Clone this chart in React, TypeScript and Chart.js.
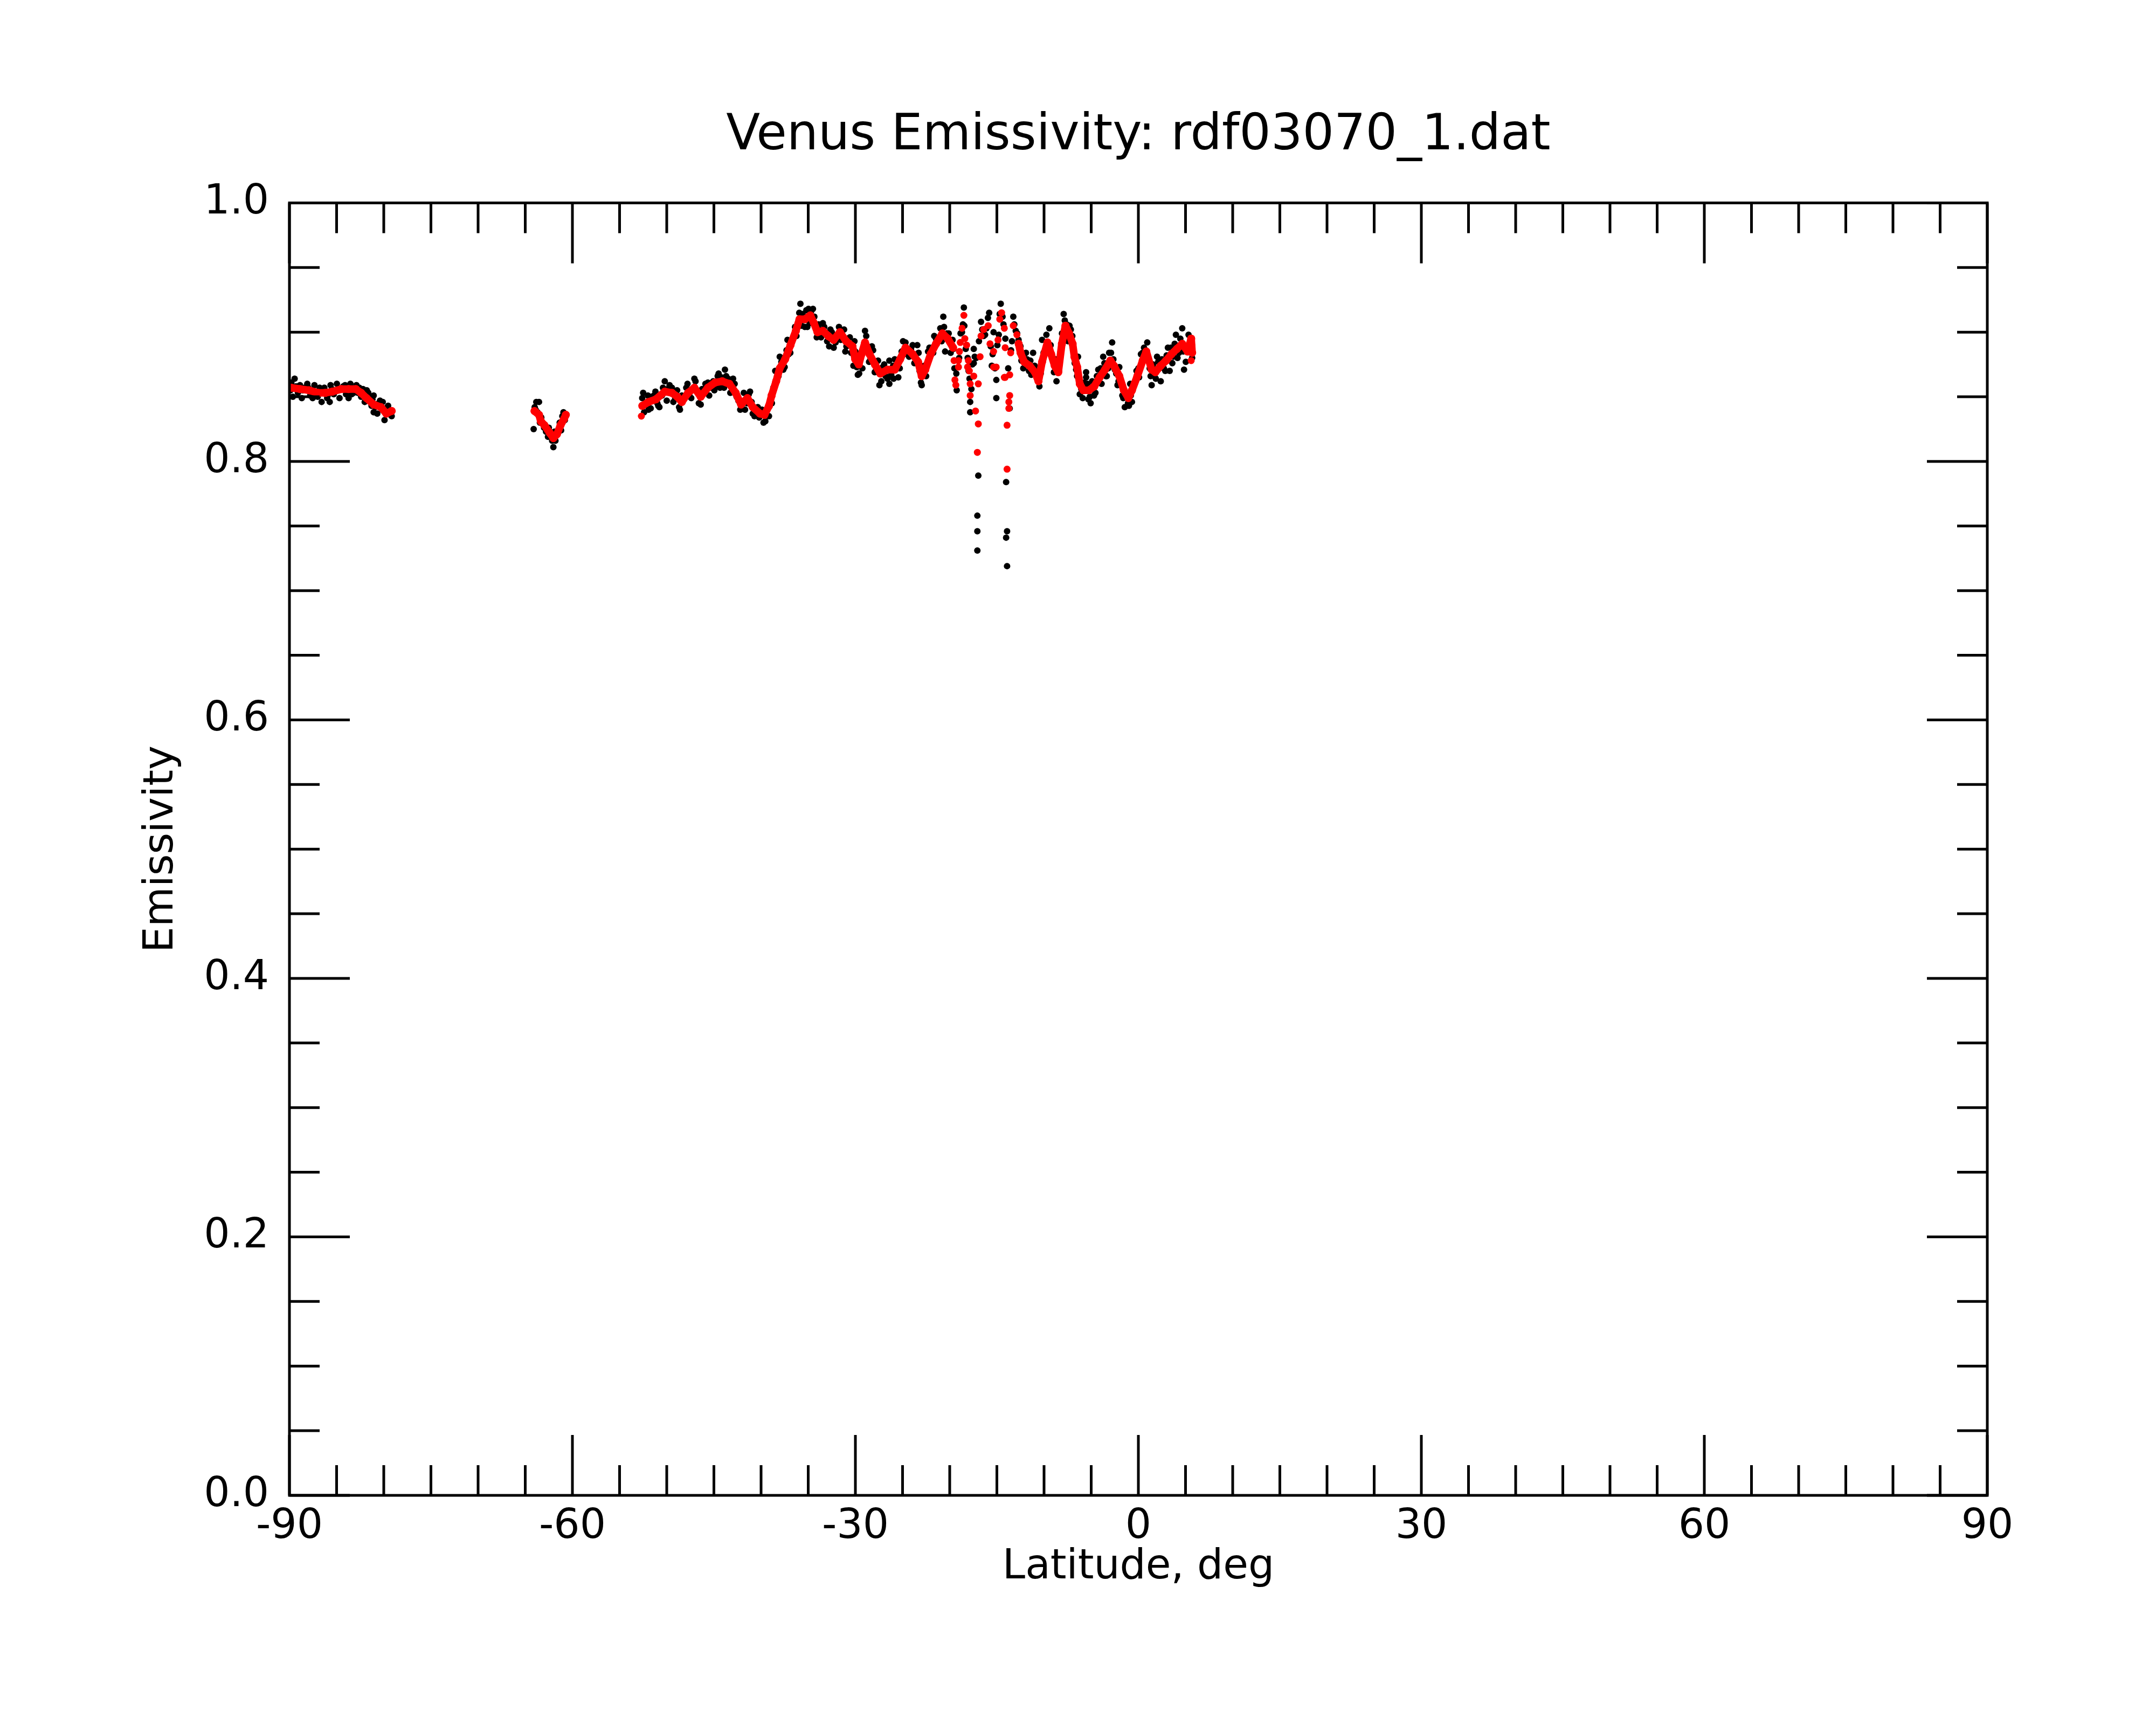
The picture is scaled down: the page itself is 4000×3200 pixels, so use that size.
import { useEffect, useRef } from "react";
import { Chart, registerables } from "chart.js";

Chart.register(...registerables);

// raw samples (black dots)
const blackLat = [
  -89.8, -89.64, -89.45, -89.1, -88.88, -88.69, -88.4, -88.11, -87.8, -87.54, -87.35, -87.0, -86.59, -86.3,
  -85.95, -85.73, -85.64, -85.3, -84.97, -84.69, -84.3, -84.0, -83.73, -83.54, -83.2, -82.9, -82.59, -82.4,
  -82.02, -81.8, -81.64, -81.3, -81.07, -81.07, -80.69, -80.4, -80.11, -79.92, -79.54, -79.3, -79.16,
  -64.11, -64.0, -63.83, -63.54, -63.3, -63.0, -62.59, -62.3, -62.02, -61.8, -61.5, -61.07, -60.8,
  -52.6, -52.5, -52.2, -51.93, -51.6, -51.36, -51.0, -50.78, -50.5, -50.21, -49.9, -49.45, -49.1, -48.69,
  -48.4, -47.93, -47.6, -47.07, -46.8, -46.4, -46.1, -45.64, -45.3, -45.07, -44.8, -44.5, -44.2, -43.93,
  -43.83, -43.5, -43.26, -42.97, -42.6, -42.21, -41.83, -41.5, -41.17, -40.88, -40.5, -40.2, -39.74, -39.4,
  -39.16, -38.7, -38.3, -38.02, -37.64, -37.3, -37.07, -36.7, -36.4, -36.1, -35.83, -35.6, -35.36, -34.97,
  -34.7, -34.5, -34.2, -33.9, -33.64, -33.45, -33.1, -32.78, -32.5, -32.1, -31.74, -31.4, -31.07, -30.8,
  -30.59, -30.21, -30.0, -29.74, -29.5, -29.26, -28.98, -28.7, -28.4, -28.12, -27.8, -27.45, -27.1, -26.8,
  -26.4, -26.4, -26.0, -25.83, -25.45, -25.1, -24.69, -24.31, -23.93, -23.6, -23.44, -23.2, -22.97, -22.7,
  -22.3, -21.9, -21.64, -21.2, -20.68, -20.49, -20.3, -20.11, -19.8, -19.5, -19.26, -19.0, -18.7, -18.5,
  -18.3, -18.0, -17.83, -17.83, -17.45, -17.45, -17.35, -17.07, -17.07, -17.07, -16.97, -16.68, -16.4, -16.1,
  -15.82, -15.54, -15.35, -15.06, -15.06, -14.8, -14.59, -14.4, -14.02, -14.02, -13.92, -13.92, -13.64, -13.5,
  -13.26, -13.0, -12.7, -12.4, -12.11, -11.92, -11.6, -11.35, -11.16, -10.8, -10.49, -10.21, -9.9, -9.44,
  -9.1, -8.68, -8.4, -8.1, -7.92, -7.6, -7.16, -6.9, -6.6, -6.4, -6.21, -5.9, -5.54, -5.54, -5.3, -5.06,
  -4.7, -4.4, -4.0, -3.73, -3.35, -3.1, -2.78, -2.5, -2.21, -2.02, -1.7, -1.44, -1.1, -0.87, -0.68, -0.3,
  0.08, 0.27, 0.6, 0.94, 1.2, 1.41, 1.7, 1.98, 2.37, 2.7, 3.13, 3.32, 3.7, 3.98, 4.3, 4.65, 4.84, 5.03,
  5.32, 5.6,
  -89.9, -89.3, -88.6, -88.0, -87.2, -86.8, -86.0, -85.5, -84.8, -84.1, -83.4, -82.75, -82.2, -81.5,
  -81.2, -80.9, -80.55, -80.2, -79.8, -79.45,
  -63.9, -63.7, -63.45, -63.15, -62.8, -62.5, -62.15, -61.9, -61.35, -61.2, -60.95,
  -52.4, -52.0, -51.7, -51.2, -50.9, -50.4, -50.0, -49.7, -49.3, -48.9, -48.6, -48.2, -47.8, -47.4,
  -46.95, -46.6, -46.25, -45.9, -45.5, -44.95, -44.6, -44.35, -43.7, -43.1, -42.8, -42.4, -42.0, -41.7,
  -41.3, -41.0, -40.7, -40.35, -39.9, -39.55, -39.0, -38.85, -38.5, -38.15, -37.85, -37.5, -37.2, -36.9,
  -36.55, -36.25, -35.95, -35.7, -35.2, -35.1, -34.85, -34.35, -34.1, -33.8, -33.3, -33.0, -32.65, -32.3,
  -31.9, -31.55, -31.2, -30.95, -30.45, -30.1, -29.85, -29.6, -29.1, -28.85, -28.55, -28.25, -27.95, -27.6,
  -27.25, -26.95, -26.6, -26.2, -25.95, -25.6, -25.3, -24.95, -24.5, -24.1, -23.75, -23.3, -23.05, -22.85,
  -22.5, -22.15, -21.75, -21.45, -21.0, -20.85, -20.6, -20.0, -19.7,
  -19.9, -19.6, -19.3, -19.15, -18.85, -18.6, -18.45, -18.1, -17.9, -17.7, -17.6, -17.2, -16.9, -16.55,
  -16.25, -15.95, -15.65, -15.45, -15.2, -14.95, -14.7, -14.3, -14.1, -13.8, -13.4, -13.15, -12.85,
  -12.5, -12.2, -11.8, -11.45, -11.0, -10.7, -10.35, -10.05, -9.75, -9.55, -9.3, -8.95, -8.8, -8.55,
  -8.25, -7.8, -7.45, -7.3, -7.0, -6.75, -6.5, -6.3, -6.05, -5.75, -5.6, -5.4, -5.15, -4.9, -4.55, -4.25,
  -3.9, -3.6, -3.45, -3.2, -2.9, -2.65, -2.35, -2.1, -1.85, -1.6, -1.3, -1.0, -0.8, -0.5, -0.2, 0.0, 0.2,
  0.45, 0.75, 1.05, 1.3, 1.55, 1.85, 2.1, 2.5, 2.85, 3.0, 3.45, 3.6, 3.85, 4.15, 4.45, 4.75, 5.1, 5.45, 5.7,
];
const blackEmis = [
  0.861, 0.85, 0.864, 0.853, 0.859, 0.849, 0.857, 0.86, 0.851, 0.849, 0.859, 0.85, 0.846, 0.857,
  0.851, 0.846, 0.859, 0.852, 0.86, 0.849, 0.858, 0.852, 0.849, 0.86, 0.853, 0.859, 0.857, 0.85,
  0.846, 0.855, 0.853, 0.843, 0.838, 0.851, 0.837, 0.847, 0.846, 0.832, 0.843, 0.836, 0.835,
  0.825, 0.842, 0.846, 0.846, 0.834, 0.826, 0.819, 0.822, 0.811, 0.816, 0.823, 0.835, 0.832,
  0.849, 0.853, 0.844, 0.84, 0.85, 0.851, 0.845, 0.842, 0.851, 0.862, 0.856, 0.857, 0.849, 0.842,
  0.851, 0.857, 0.851, 0.864, 0.855, 0.844, 0.853, 0.861, 0.857, 0.862, 0.858, 0.868, 0.865, 0.857,
  0.871, 0.864, 0.853, 0.864, 0.85, 0.84, 0.853, 0.845, 0.854, 0.837, 0.841, 0.834, 0.83, 0.84,
  0.835, 0.857, 0.866, 0.881, 0.871, 0.886, 0.883, 0.893, 0.904, 0.907, 0.922, 0.914, 0.904, 0.918,
  0.916, 0.918, 0.903, 0.906, 0.896, 0.907, 0.898, 0.889, 0.9, 0.892, 0.904, 0.897, 0.885, 0.895,
  0.896, 0.874, 0.885, 0.867, 0.88, 0.872, 0.901, 0.889, 0.88, 0.886, 0.871, 0.859, 0.873, 0.866,
  0.86, 0.878, 0.874, 0.879, 0.865, 0.885, 0.892, 0.881, 0.89, 0.879, 0.89, 0.87, 0.859, 0.874,
  0.885, 0.888, 0.897, 0.893, 0.912, 0.885, 0.899, 0.899, 0.89, 0.872, 0.855, 0.88, 0.9, 0.919,
  0.887, 0.87, 0.846, 0.838, 0.887, 0.876, 0.881, 0.758, 0.746, 0.731, 0.789, 0.908, 0.897, 0.903,
  0.915, 0.874, 0.9, 0.863, 0.849, 0.898, 0.922, 0.912, 0.784, 0.741, 0.746, 0.719, 0.841, 0.886,
  0.912, 0.901, 0.894, 0.878, 0.88, 0.884, 0.87, 0.867, 0.884, 0.866, 0.858, 0.894, 0.884, 0.903,
  0.879, 0.862, 0.87, 0.899, 0.914, 0.906, 0.902, 0.886, 0.871, 0.881, 0.852, 0.849, 0.869, 0.865, 0.848, 0.845,
  0.851, 0.866, 0.872, 0.881, 0.866, 0.884, 0.892, 0.871, 0.859, 0.873, 0.851, 0.842, 0.845, 0.86, 0.846, 0.862,
  0.865, 0.883, 0.888, 0.892, 0.872, 0.859, 0.866, 0.881, 0.862, 0.872, 0.888, 0.87, 0.881, 0.898, 0.884, 0.903, 0.871, 0.877,
  0.898, 0.886,
  0.855, 0.858, 0.855, 0.857, 0.853, 0.857, 0.849, 0.856, 0.855, 0.859, 0.852, 0.853, 0.856, 0.85,
  0.848, 0.842, 0.845, 0.84, 0.841, 0.838,
  0.84, 0.838, 0.83, 0.829, 0.823, 0.826, 0.816, 0.823, 0.83, 0.824, 0.838,
  0.838, 0.851, 0.841, 0.854, 0.843, 0.857, 0.847, 0.859, 0.846, 0.855, 0.84, 0.85, 0.86, 0.849,
  0.862, 0.845, 0.856, 0.86, 0.851, 0.855, 0.866, 0.857, 0.866, 0.857, 0.86, 0.847, 0.846, 0.84,
  0.852, 0.846, 0.835, 0.842, 0.84, 0.831, 0.848, 0.845, 0.87, 0.866, 0.877, 0.873, 0.894, 0.884,
  0.897, 0.897, 0.915, 0.905, 0.917, 0.904, 0.907, 0.912, 0.896, 0.902, 0.904, 0.893, 0.902, 0.888,
  0.897, 0.894, 0.902, 0.889, 0.884, 0.893, 0.873, 0.868, 0.889, 0.897, 0.877, 0.889, 0.869, 0.878,
  0.862, 0.875, 0.864, 0.867, 0.864, 0.874, 0.872, 0.893, 0.883, 0.887, 0.876, 0.884, 0.861, 0.872,
  0.866, 0.888, 0.884, 0.895, 0.903, 0.893, 0.904, 0.893, 0.894,
  0.884, 0.887, 0.868, 0.878, 0.899, 0.906, 0.905, 0.88, 0.864, 0.856, 0.875, 0.88, 0.893, 0.902,
  0.898, 0.911, 0.889, 0.883, 0.872, 0.89, 0.914, 0.906, 0.895, 0.872, 0.893, 0.906, 0.899,
  0.889, 0.872, 0.879, 0.878, 0.874, 0.87, 0.868, 0.884, 0.898, 0.887, 0.89, 0.869, 0.879, 0.875,
  0.885, 0.909, 0.893, 0.905, 0.897, 0.876, 0.866, 0.863, 0.856, 0.861, 0.858, 0.86, 0.85, 0.862, 0.853, 0.871,
  0.86, 0.876, 0.866, 0.872, 0.884, 0.879, 0.868, 0.862, 0.86, 0.849, 0.853, 0.843, 0.851, 0.86, 0.87, 0.872, 0.872,
  0.884, 0.879, 0.88, 0.866, 0.875, 0.864, 0.877, 0.879, 0.87, 0.882, 0.888, 0.876, 0.891, 0.88, 0.895, 0.885, 0.889, 0.892, 0.88,
];

// smoothed curve (red), null = gap between passes
const redLineLat = [
  -89.83, -88.88, -87.92, -86.97, -86.21, -85.45, -84.5, -83.73, -82.97, -82.4, -81.83, -81.07, -80.3, -79.73, -79.16,
  -72,
  -64.02, -63.54, -63.35, -62.97, -62.4, -62.02, -61.64, -61.26, -60.88, -60.7,
  -56,
  -52.59, -51.93, -51.16, -50.21, -49.45, -48.88, -48.4, -47.74, -47.07, -46.4, -45.64, -44.88, -44.12, -43.36,
  -42.69, -42.12, -41.45, -40.88, -40.12, -39.64, -39.16, -38.88, -38.4, -38.02, -37.45, -36.88, -36.31, -35.93,
  -35.36, -34.78, -34.4, -34.02, -33.45, -32.88, -32.31, -31.64, -30.98, -30.31, -30.02, -29.64, -29.35, -28.98,
  -28.5, -27.93, -27.36, -26.59, -25.83, -25.26, -24.69, -23.93, -23.35, -22.97, -22.59, -22.02, -21.45, -20.78,
  -20.21, -19.64,
  -16,
  -12.69, -12.49, -12.11, -11.54, -10.97, -10.59, -10.21, -9.64, -9.25, -8.87, -8.49, -8.11, -7.73, -7.35, -6.97,
  -6.78, -6.49, -6.21, -5.83, -5.25, -4.68, -4.11, -3.54, -2.97, -2.59, -2.02, -1.54, -1.06, -0.68, -0.11, 0.46,
  0.84, 1.41, 1.8, 2.37, 2.94, 3.51, 4.08, 4.65, 5.22, 5.6, 5.7,
];
const redLineEmis = [
  0.857, 0.856, 0.855, 0.853, 0.853, 0.854, 0.856, 0.856, 0.856, 0.853, 0.849, 0.844, 0.842, 0.837, 0.839,
  null,
  0.839, 0.836, 0.831, 0.828, 0.822, 0.818, 0.821, 0.828, 0.833, 0.836,
  null,
  0.843, 0.846, 0.848, 0.854, 0.853, 0.85, 0.846, 0.853, 0.857, 0.85, 0.857, 0.861, 0.862, 0.86,
  0.853, 0.844, 0.849, 0.842, 0.837, 0.836, 0.843, 0.851, 0.862, 0.872, 0.879, 0.89, 0.901, 0.91,
  0.91, 0.913, 0.907, 0.9, 0.901, 0.897, 0.894, 0.9, 0.893, 0.889, 0.879, 0.875, 0.883, 0.892,
  0.883, 0.875, 0.868, 0.871, 0.871, 0.879, 0.888, 0.883, 0.877, 0.866, 0.871, 0.883, 0.891, 0.899,
  0.895, 0.888,
  null,
  0.891, 0.884, 0.877, 0.874, 0.869, 0.862, 0.877, 0.892, 0.883, 0.874, 0.869, 0.891, 0.905, 0.899, 0.891,
  0.881, 0.873, 0.86, 0.855, 0.855, 0.858, 0.865, 0.871, 0.878, 0.874, 0.866, 0.855, 0.849, 0.855, 0.866, 0.878,
  0.885, 0.871, 0.869, 0.874, 0.878, 0.883, 0.887, 0.891, 0.885, 0.895, 0.884,
];

// scattered red samples
const redDotLat = [
  -52.69, -19.54, -19.45, -19.35, -19.07, -19.07, -18.97, -18.88, -18.69, -18.5, -18.4, -18.21, -18.11, -18.02,
  -17.92, -17.83, -17.83, -17.45, -17.26, -16.97, -16.97, -17.07, -16.78, -16.68, -16.4, -15.92, -15.73, -15.35,
  -15.35, -15.07, -14.88, -14.69, -14.5, -14.21, -14.21, -14.12, -14.12, -13.64, -13.64, -13.73, -13.73, -13.92,
  -13.92, -13.54, -13.26, -12.88, 5.6, 5.65,
];
const redDotEmis = [
  0.835, 0.878, 0.863, 0.859, 0.873, 0.878, 0.885, 0.892, 0.903, 0.913, 0.895, 0.89, 0.873, 0.878,
  0.87, 0.86, 0.851, 0.866, 0.839, 0.86, 0.829, 0.807, 0.881, 0.897, 0.902, 0.905, 0.891, 0.885,
  0.873, 0.873, 0.894, 0.91, 0.915, 0.903, 0.865, 0.888, 0.865, 0.867, 0.851, 0.846, 0.841, 0.828,
  0.794, 0.884, 0.905, 0.898, 0.878, 0.89,
];

const xMajorTicks = [-90, -60, -30, 0, 30, 60, 90];
const yMajorTicks = [0, 0.2, 0.4, 0.6, 0.8, 1.0];
const xMinorStep = 5;
const yMinorStep = 0.05;

const FONT = "'DejaVu Sans', sans-serif";
const FONT_SIZE = 76;

// inward ticks on all four sides plus the frame
const frameTicks = {
  id: "frameTicks",
  afterDraw(chart: any) {
    const { ctx, chartArea: a, scales } = chart;
    const xs = scales.x;
    const ys = scales.y;
    const major = 112;
    const minor = 56;
    ctx.save();
    ctx.strokeStyle = "#000";
    ctx.lineWidth = 5;
    ctx.beginPath();
    for (let v = -90; v <= 90; v += xMinorStep) {
      const px = xs.getPixelForValue(v);
      const len = xMajorTicks.includes(v) ? major : minor;
      ctx.moveTo(px, a.bottom);
      ctx.lineTo(px, a.bottom - len);
      ctx.moveTo(px, a.top);
      ctx.lineTo(px, a.top + len);
    }
    for (let i = 0; i <= 20; i++) {
      const v = i * yMinorStep;
      const py = ys.getPixelForValue(v);
      const len = i % 4 === 0 ? major : minor;
      ctx.moveTo(a.left, py);
      ctx.lineTo(a.left + len, py);
      ctx.moveTo(a.right, py);
      ctx.lineTo(a.right - len, py);
    }
    ctx.stroke();
    ctx.strokeRect(a.left, a.top, a.right - a.left, a.bottom - a.top);
    ctx.restore();
  },
};

export default function App() {
  const canvasRef = useRef<HTMLCanvasElement | null>(null);

  useEffect(() => {
    if (!canvasRef.current) return;
    const ctx = canvasRef.current.getContext("2d");
    if (!ctx) return;

    const chart = new Chart(ctx, {
      type: "scatter",
      data: {
        datasets: [
          {
            label: "smoothed",
            data: redLineLat.map((x, i) => ({ x, y: redLineEmis[i] })) as any,
            showLine: true,
            spanGaps: false,
            borderColor: "#ff0000",
            borderWidth: 14,
            borderJoinStyle: "round",
            borderCapStyle: "round",
            tension: 0,
            pointRadius: 7.5,
            pointBackgroundColor: "#ff0000",
            pointBorderWidth: 0,
            order: 0,
          },
          {
            label: "smoothed scatter",
            data: redDotLat.map((x, i) => ({ x, y: redDotEmis[i] })),
            showLine: false,
            pointRadius: 6.5,
            pointBackgroundColor: "#ff0000",
            pointBorderWidth: 0,
            order: 1,
          },
          {
            label: "raw",
            data: blackLat.map((x, i) => ({ x, y: blackEmis[i] })),
            showLine: false,
            pointRadius: 6,
            pointBackgroundColor: "#000000",
            pointBorderWidth: 0,
            order: 2,
          },
        ],
      },
      options: {
        animation: false,
        responsive: false,
        devicePixelRatio: 1,
        layout: { padding: { left: 0, right: 313, top: 0, bottom: 0 } },
        plugins: {
          legend: { display: false },
          tooltip: { enabled: false },
          title: {
            display: true,
            text: "Venus Emissivity: rdf03070_1.dat",
            color: "#000",
            fullSize: false,
            font: { family: FONT, size: 92, weight: "normal" },
            padding: { top: 198, bottom: 68 },
          },
        },
        scales: {
          x: {
            type: "linear",
            min: -90,
            max: 90,
            afterBuildTicks: (s: any) => {
              s.ticks = xMajorTicks.map((value) => ({ value }));
            },
            afterFit: (s: any) => {
              s.height = 426;
            },
            grid: { display: false, drawTicks: false },
            border: { display: false },
            ticks: {
              color: "#000",
              font: { family: FONT, size: FONT_SIZE },
              padding: 14,
              maxRotation: 0,
              autoSkip: false,
            },
            title: {
              display: true,
              text: "Latitude, deg",
              color: "#000",
              font: { family: FONT, size: FONT_SIZE },
              padding: { top: 0, bottom: 246 },
            },
          },
          y: {
            type: "linear",
            min: 0,
            max: 1,
            afterBuildTicks: (s: any) => {
              s.ticks = yMajorTicks.map((value) => ({ value }));
            },
            afterFit: (s: any) => {
              s.width = 537;
            },
            grid: { display: false, drawTicks: false },
            border: { display: false },
            ticks: {
              color: "#000",
              font: { family: FONT, size: FONT_SIZE },
              padding: 38,
              callback: (v: any) => Number(v).toFixed(1),
            },
            title: {
              display: true,
              text: "Emissivity",
              color: "#000",
              font: { family: FONT, size: FONT_SIZE },
              padding: { top: 255, bottom: 0 },
            },
          },
        },
      },
      plugins: [frameTicks],
    });
    return () => chart.destroy();
  }, []);

  return (
    <div style={{ position: "absolute", left: 0, top: 0, width: 4000, height: 3200, background: "#fff" }}>
      <canvas ref={canvasRef} width={4000} height={3200} style={{ display: "block" }} />
    </div>
  );
}
